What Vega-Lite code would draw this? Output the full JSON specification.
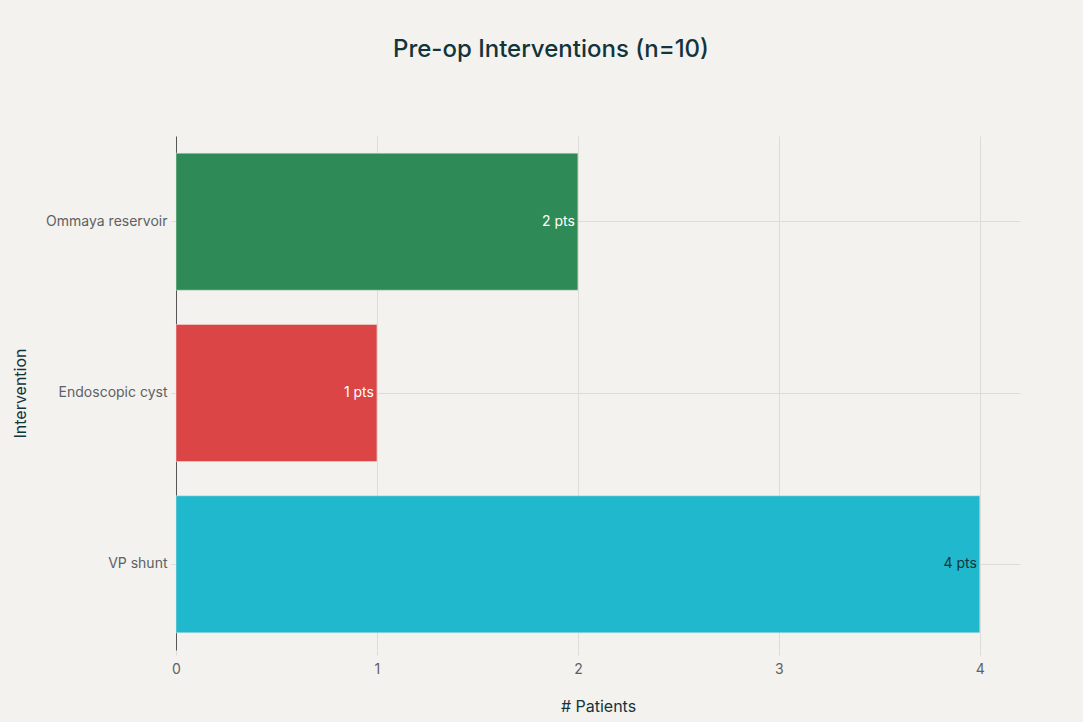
{
  "$schema": "https://vega.github.io/schema/vega-lite/v6.json",
  "width": 844,
  "height": 514,
  "autosize": {"type": "none"},
  "padding": {"left": 176, "top": 136, "right": 63, "bottom": 72},
  "background": "#f3f2ee",
  "title": {
    "text": "Pre-op Interventions (n=10)",
    "anchor": "middle",
    "dx": -47,
    "offset": 74,
    "fontSize": 24,
    "fontWeight": 500,
    "font": "Inter",
    "color": "#13343b"
  },
  "config": {
    "view": {"stroke": null},
    "font": "Inter"
  },
  "data": {
    "values": [
      {"intervention": "Ommaya reservoir", "patients": 2, "label": "2 pts"},
      {"intervention": "Endoscopic cyst", "patients": 1, "label": "1 pts"},
      {"intervention": "VP shunt", "patients": 4, "label": "4 pts"}
    ]
  },
  "encoding": {
    "y": {
      "field": "intervention",
      "type": "nominal",
      "sort": ["Ommaya reservoir", "Endoscopic cyst", "VP shunt"],
      "scale": {"paddingInner": 0.2, "paddingOuter": 0.1},
      "axis": {
        "title": "Intervention",
        "titleFont": "Inter",
        "titleFontSize": 16,
        "titleFontWeight": "normal",
        "titleColor": "#13343b",
        "titlePadding": 17,
        "labelFont": "Inter",
        "labelFontSize": 14,
        "labelColor": "#5d6165",
        "labelPadding": 4,
        "tickColor": "#dcdcdc",
        "tickSize": 5,
        "domainColor": "#555555",
        "domainWidth": 1,
        "grid": true,
        "gridColor": "#dcdcd8",
        "bandPosition": 0.5
      }
    },
    "x": {
      "field": "patients",
      "type": "quantitative",
      "scale": {"domain": [0, 4.2], "nice": false},
      "axis": {
        "title": "# Patients",
        "titleFont": "Inter",
        "titleFontSize": 16,
        "titleFontWeight": "normal",
        "titleColor": "#13343b",
        "titlePadding": 22,
        "values": [0, 1, 2, 3, 4],
        "labelFont": "Inter",
        "labelFontSize": 14,
        "labelColor": "#5d6165",
        "labelPadding": 7,
        "labelFlush": false,
        "tickColor": "#dcdcdc",
        "tickSize": 5,
        "domain": false,
        "grid": true,
        "gridColor": "#dcdcd8"
      }
    }
  },
  "layer": [
    {
      "mark": {"type": "bar", "stroke": "#e6e6e2", "strokeWidth": 0.5},
      "encoding": {
        "color": {
          "field": "intervention",
          "type": "nominal",
          "scale": {
            "domain": ["Ommaya reservoir", "Endoscopic cyst", "VP shunt"],
            "range": ["#2e8b57", "#db4545", "#1fb8cd"]
          },
          "legend": null
        }
      }
    },
    {
      "mark": {"type": "text", "align": "right", "baseline": "middle", "dx": -3, "fontSize": 14, "font": "Inter"},
      "encoding": {
        "text": {"field": "label"},
        "color": {
          "condition": {"test": "datum.intervention === 'VP shunt'", "value": "#13343b"},
          "value": "#ffffff"
        }
      }
    }
  ]
}
